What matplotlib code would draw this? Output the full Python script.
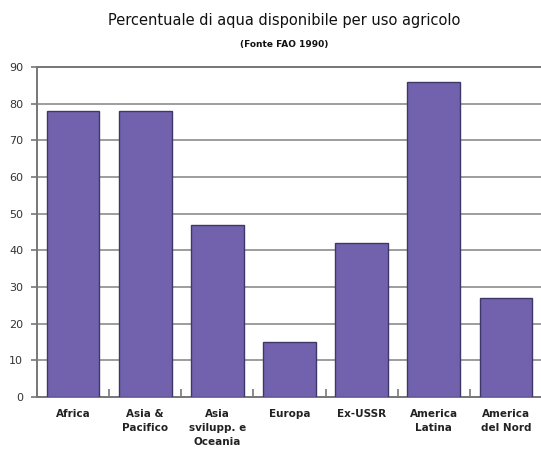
import numpy as np
import matplotlib.pyplot as plt
from matplotlib.ticker import FixedLocator

categories = ["Africa", "Asia &\nPacifico", "Asia\nsvilupp. e\nOceania", "Europa",
              "Ex-USSR", "America\nLatina", "America\ndel Nord"]
values = [78, 78, 47, 15, 42, 86, 27]
yticks = [0, 10, 20, 30, 40, 50, 60, 70, 80, 90]

fig = plt.figure(figsize=(5.41, 4.55), dpi=100)
ax = fig.add_axes([0.0684, 0.1275, 0.9335, 0.725])

x = np.arange(len(categories))
ax.bar(x, values, width=0.73, color="#7262ae", edgecolor="#3e3868", linewidth=1.0, zorder=3)

ax.set_xlim(-0.5, len(categories) - 0.5)
ax.set_ylim(0, 90)
ax.set_yticks(yticks)
ax.yaxis.grid(True, color="#959595", linewidth=1.3, zorder=0)
ax.set_axisbelow(True)

ax.set_xticks(x)
ax.set_xticklabels(categories, fontsize=7.5, fontweight="bold", color="#222222", linespacing=1.5)
ax.tick_params(axis="x", which="major", length=0, pad=9)
ax.xaxis.set_minor_locator(FixedLocator(np.arange(-0.5, len(categories), 1.0)))
ax.tick_params(axis="x", which="minor", direction="in", length=6, color="#777777", width=1.2)
ax.tick_params(axis="y", length=4, color="#777777", width=1.2, labelsize=8, labelcolor="#333333", pad=6)

for s in ["left", "bottom", "top", "right"]:
    ax.spines[s].set_color("#777777")
    ax.spines[s].set_linewidth(1.4)

fig.text(0.525, 0.955, "Percentuale di aqua disponibile per uso agricolo",
         ha="center", va="center", fontsize=10.5, color="#111111")
fig.text(0.525, 0.903, "(Fonte FAO 1990)", ha="center", va="center",
         fontsize=6.5, fontweight="bold", color="#111111")

fig.savefig("out.png", dpi=100)
